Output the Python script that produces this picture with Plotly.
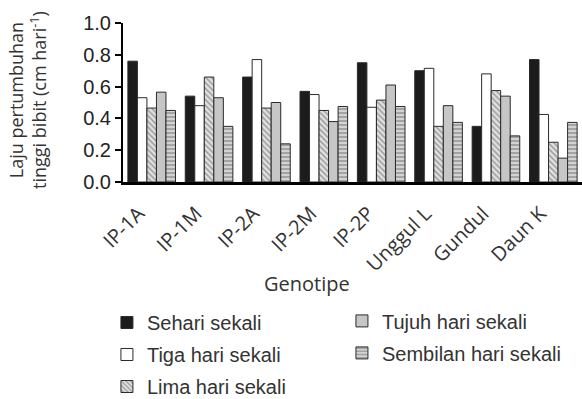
import plotly.graph_objects as go

genotypes = ["IP-1A", "IP-1M", "IP-2A", "IP-2M", "IP-2P", "Unggul L", "Gundul", "Daun K"]
series_names = ["Sehari sekali", "Tiga hari sekali", "Lima hari sekali",
                "Tujuh hari sekali", "Sembilan hari sekali"]

sehari = [0.76, 0.54, 0.66, 0.57, 0.75, 0.70, 0.35, 0.77]
tiga = [0.53, 0.48, 0.77, 0.55, 0.47, 0.715, 0.68, 0.425]
lima = [0.465, 0.66, 0.465, 0.45, 0.515, 0.35, 0.575, 0.25]
tujuh = [0.565, 0.53, 0.50, 0.38, 0.61, 0.48, 0.54, 0.15]
sembilan = [0.45, 0.35, 0.24, 0.475, 0.475, 0.375, 0.29, 0.375]

y_ticks = [0.0, 0.2, 0.4, 0.6, 0.8, 1.0]

values = [sehari, tiga, lima, tujuh, sembilan]
styles = [
    dict(color="#1c1c1c"),
    dict(color="#ffffff"),
    dict(color="#d9d9d9", pattern=dict(shape="\\", fgcolor="#4a4a4a", bgcolor="#e0e0e0", size=4, solidity=0.35)),
    dict(color="#c6c6c6"),
    dict(color="#cfcfcf", pattern=dict(shape="-", fgcolor="#6a6a6a", bgcolor="#d2d2d2", size=4, solidity=0.45)),
]
legend_ids = ["legend", "legend", "legend", "legend2", "legend2"]

fig = go.Figure()
for name, vals, st, lg in zip(series_names, values, styles, legend_ids):
    marker = dict(line=dict(color="#2a2a2a", width=1), **st)
    fig.add_trace(go.Bar(x=genotypes, y=vals, name=name, marker=marker,
                         legend=lg, legendgroup=name))

tick_font = dict(family="Liberation Sans, Arial, sans-serif", size=20, color="#222")
legend_font = dict(family="Liberation Sans, Arial, sans-serif", size=20, color="#333")
fig.update_layout(
    width=582, height=399,
    margin=dict(l=123, r=0, t=23, b=217, autoexpand=False),
    paper_bgcolor="white", plot_bgcolor="white",
    barmode="group", bargap=0.17, bargroupgap=0,
    xaxis=dict(range=[-0.5, 7.5], showline=True, linecolor="black", linewidth=3,
               ticks="", tickangle=-45, ticklabelstandoff=9, ticklabelshift=-13,
               tickfont=dict(family="Open Sans, sans-serif", size=20, color="#333"),
               showgrid=False, zeroline=False, automargin=False),
    yaxis=dict(range=[0, 1.0], tickvals=y_ticks, tickformat=".1f",
               showline=True, linecolor="black", linewidth=2,
               ticks="outside", ticklen=6, tickwidth=2, tickcolor="black",
               tickfont=tick_font, showgrid=False, zeroline=False, automargin=False),
    legend=dict(x=-0.035, y=-0.761, xanchor="left", yanchor="top",
                orientation="v", traceorder="grouped", tracegroupgap=3,
                font=legend_font, bgcolor="rgba(0,0,0,0)"),
    legend2=dict(x=0.477, y=-0.751, xanchor="left", yanchor="top",
                 orientation="v", traceorder="grouped", tracegroupgap=3,
                 font=legend_font, bgcolor="rgba(0,0,0,0)"),
    annotations=[
        dict(text="Genotipe", xref="paper", yref="paper", x=0.401, y=-0.637,
             xanchor="center", yanchor="middle", showarrow=False,
             font=dict(family="Open Sans, sans-serif", size=20, color="#333")),
        dict(text="Laju pertumbuhan<br>tinggi bibit (cm hari<sup>-1</sup>)",
             xref="paper", yref="paper", x=-0.207, y=0.516, textangle=-90,
             xanchor="center", yanchor="middle", showarrow=False,
             font=dict(family="Open Sans, sans-serif", size=18, color="#333")),
    ],
)

fig.write_html("out.html", config={"displayModeBar": False},
               post_script="document.body.style.margin='0px';document.body.style.overflow='hidden';")
